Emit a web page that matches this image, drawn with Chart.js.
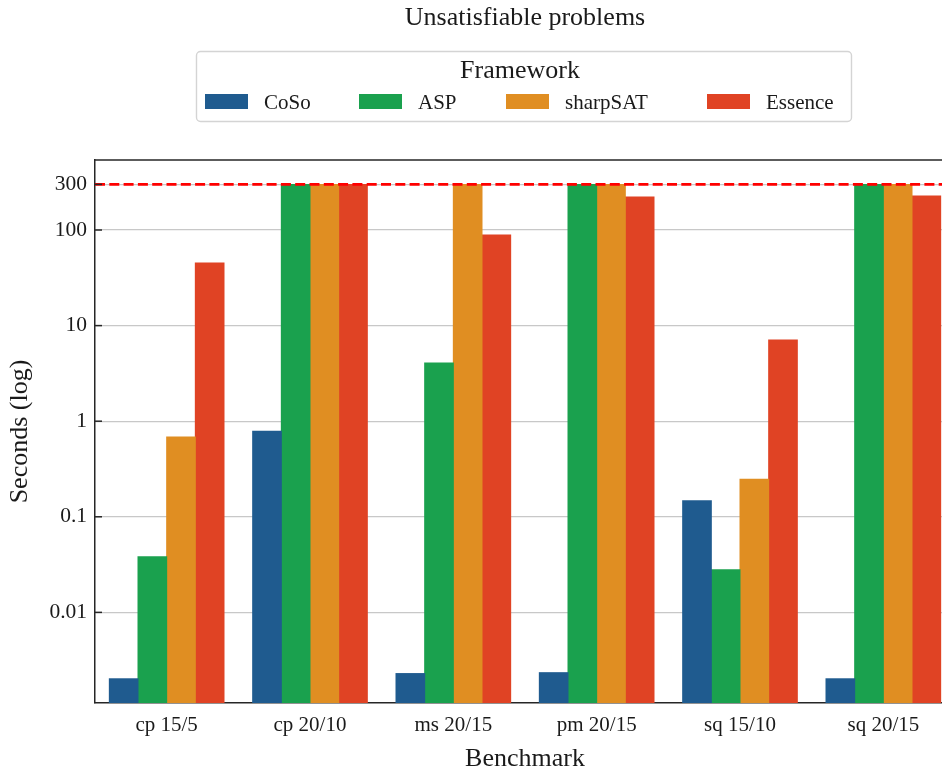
<!DOCTYPE html>
<html>
<head>
<meta charset="utf-8">
<script src="https://cdn.jsdelivr.net/npm/chart.js@4/dist/chart.umd.min.js"></script>
<style>
  html, body { margin: 0; padding: 0; background: #ffffff; overflow: hidden; }
  #wrap { width: 960px; height: 773px; }
</style>
</head>
<body>
<div id="wrap"><canvas id="chart" width="960" height="773"></canvas></div>
<script>
// Benchmarks on the x axis
const BENCHMARKS = ['cp 15/5', 'cp 20/10', 'ms 20/15', 'pm 20/15', 'sq 15/10', 'sq 20/15'];
// Frameworks compared
const FRAMEWORKS = ['CoSo', 'ASP', 'sharpSAT', 'Essence'];
// Timeout in seconds (runs hitting it are capped at this value)
const TIMEOUT = 300;
// Runtime in seconds per benchmark
const COSO     = [0.00202, 0.786, 0.00229, 0.00234, 0.147, 0.00202];
const ASP      = [0.0382, 300, 4.07, 300, 0.0279, 300];
const SHARPSAT = [0.685, 300, 300, 300, 0.247, 300];
const ESSENCE  = [45.2, 300, 88.7, 221, 7.08, 227];
// Y axis tick values
const Y_TICKS = [0.01, 0.1, 1, 10, 100, 300];

const SERIES = [COSO, ASP, SHARPSAT, ESSENCE];
const COLORS = ['#1f5b8f', '#1aa14e', '#e08e22', '#e04324'];
const SERIF = '"Liberation Serif", "Times New Roman", Times, serif';
const INK = '#1a1a1a';
const FRAME = '#262626';

// White background, top frame line, inward y ticks, timeout line and legend
const decorPlugin = {
  id: 'decor',
  beforeDraw(chart) {
    const ctx = chart.ctx;
    ctx.save();
    ctx.fillStyle = '#ffffff';
    ctx.fillRect(0, 0, chart.width, chart.height);
    ctx.restore();
  },
  afterDatasetsDraw(chart) {
    const { ctx, chartArea } = chart;
    const y = chart.scales.y.getPixelForValue(TIMEOUT);
    ctx.save();
    ctx.strokeStyle = '#ff0000';
    ctx.lineWidth = 2.7;
    ctx.setLineDash([10, 4.3]);
    ctx.beginPath();
    ctx.moveTo(chartArea.left, y);
    ctx.lineTo(chartArea.right, y);
    ctx.stroke();
    ctx.restore();
  },
  afterDraw(chart) {
    const { ctx, chartArea } = chart;
    const ys = chart.scales.y;
    ctx.save();
    // top frame
    ctx.strokeStyle = FRAME;
    ctx.lineWidth = 1.5;
    ctx.beginPath();
    ctx.moveTo(chartArea.left - 0.75, chartArea.top);
    ctx.lineTo(chartArea.right + 0.75, chartArea.top);
    ctx.stroke();
    // inward tick marks
    ys.ticks.forEach(t => {
      const py = ys.getPixelForValue(t.value);
      ctx.beginPath();
      ctx.moveTo(chartArea.left, py);
      ctx.lineTo(chartArea.left + 7, py);
      ctx.stroke();
    });
    ctx.restore();

    // legend box
    const L = chart.options.plugins.decor.legend;
    ctx.save();
    ctx.beginPath();
    ctx.roundRect(L.x, L.y, L.w, L.h, 4);
    ctx.fillStyle = '#ffffff';
    ctx.fill();
    ctx.strokeStyle = '#d4d4d4';
    ctx.lineWidth = 1.4;
    ctx.stroke();
    ctx.fillStyle = INK;
    ctx.textAlign = 'center';
    ctx.textBaseline = 'alphabetic';
    ctx.font = '26px ' + SERIF;
    ctx.fillText(L.title, L.titleX, L.titleBaseline);
    ctx.font = '21px ' + SERIF;
    ctx.textAlign = 'left';
    chart.data.datasets.forEach((ds, i) => {
      const sx = L.swatchX[i];
      ctx.fillStyle = ds.backgroundColor;
      ctx.fillRect(sx, L.swatchTop, L.swatchW, L.swatchH);
      ctx.fillStyle = INK;
      ctx.fillText(ds.label, sx + L.swatchW + L.textGap, L.textBaseline);
    });
    ctx.restore();
  }
};

new Chart(document.getElementById('chart'), {
  type: 'bar',
  data: {
    labels: BENCHMARKS,
    datasets: FRAMEWORKS.map((name, i) => ({
      label: name,
      data: SERIES[i],
      backgroundColor: COLORS[i],
      borderWidth: 0,
      inflateAmount: 0.5,
      barPercentage: 1.0,
      categoryPercentage: 0.8
    }))
  },
  options: {
    responsive: false,
    animation: false,
    devicePixelRatio: 1,
    layout: { padding: { top: 0, right: 5, bottom: 0, left: 0 } },
    plugins: {
      legend: { display: false },
      tooltip: { enabled: false },
      title: {
        display: true,
        text: 'Unsatisfiable problems',
        fullSize: false,
        color: INK,
        font: { family: SERIF, size: 26, weight: 'normal', lineHeight: 1.2 },
        padding: { top: 2.4, bottom: 126.4 }
      },
      decor: {
        legend: {
          x: 196.5, y: 51.5, w: 655, h: 70,
          title: 'Framework', titleX: 520, titleBaseline: 78,
          swatchX: [205, 359, 506, 707], swatchTop: 94, swatchW: 43, swatchH: 15,
          textGap: 16, textBaseline: 109
        }
      }
    },
    scales: {
      x: {
        type: 'category',
        offset: true,
        grid: { display: false, drawTicks: false },
        border: { display: true, color: FRAME, width: 1.5 },
        ticks: { color: INK, font: { family: SERIF, size: 21 }, padding: 10, maxRotation: 0 },
        title: {
          display: true, text: 'Benchmark', color: INK,
          font: { family: SERIF, size: 26, lineHeight: 1 },
          padding: { top: 0, bottom: 0.8 }
        },
        afterFit(scale) { scale.height = 70; }
      },
      y: {
        type: 'logarithmic',
        min: 0.001127,
        max: 540,
        grid: { color: '#c8c8c8', lineWidth: 1.3, drawTicks: false },
        border: { display: true, color: FRAME, width: 1.5 },
        afterBuildTicks(scale) { scale.ticks = Y_TICKS.map(v => ({ value: v })); },
        ticks: {
          autoSkip: false,
          color: INK,
          font: { family: SERIF, size: 21.5 },
          padding: 8,
          callback: (v) => String(v)
        },
        title: {
          display: true, text: 'Seconds (log)', color: INK,
          font: { family: SERIF, size: 26, lineHeight: 1 },
          padding: { top: 7.2, bottom: 0 }
        },
        afterFit(scale) { scale.width = 95; }
      }
    }
  },
  plugins: [decorPlugin]
});
</script>
</body>
</html>
